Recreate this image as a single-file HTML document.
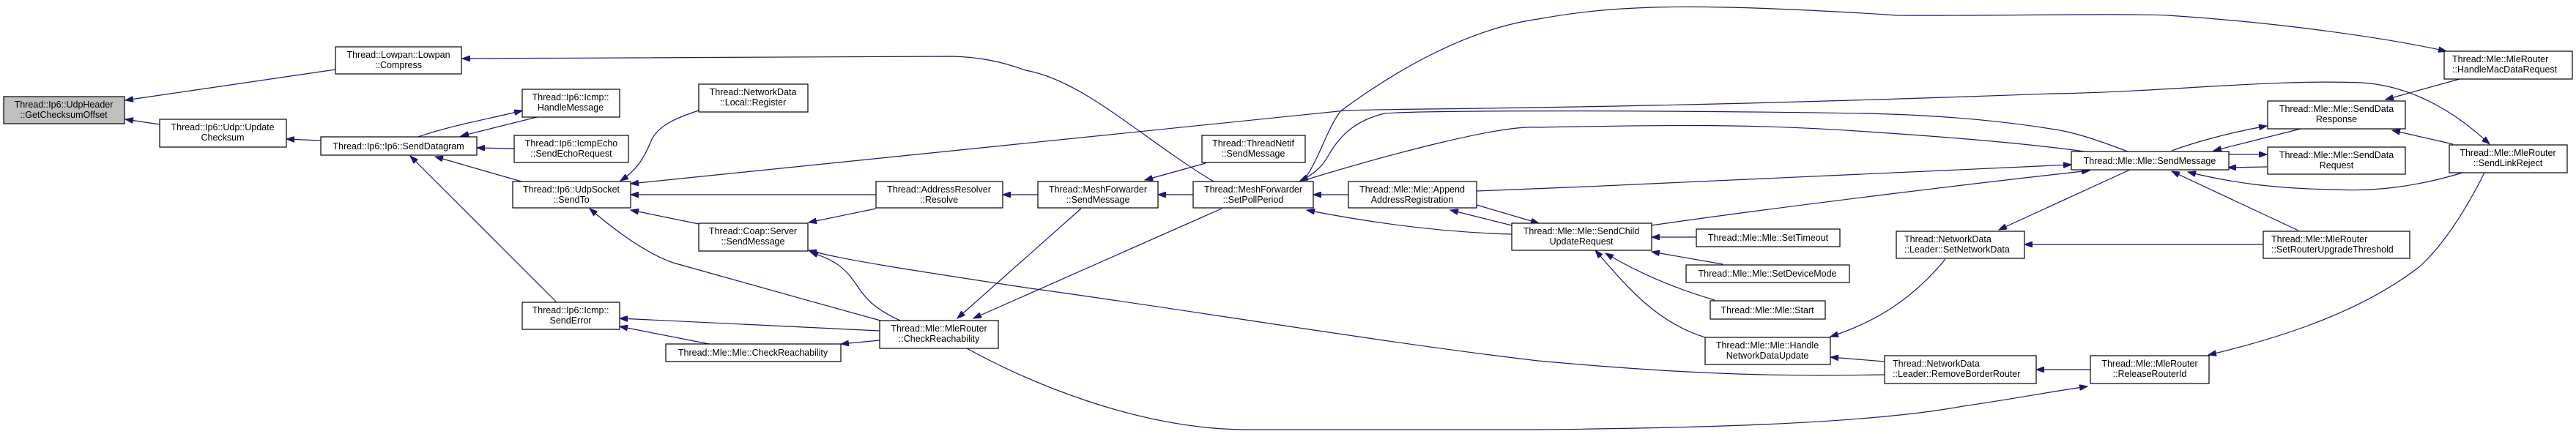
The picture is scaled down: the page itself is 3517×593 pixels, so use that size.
<!DOCTYPE html>
<html><head><meta charset="utf-8"><style>
html,body{margin:0;padding:0;background:#fff;}
svg{display:block;}
text{font-family:"Liberation Sans",Arial,sans-serif;font-size:12.5px;fill:#000;text-anchor:middle;}
.n{fill:#fff;stroke:#000;stroke-width:1.2;}
.e{fill:none;stroke:#191970;stroke-width:1.2;marker-end:url(#a);}
.l{fill:none;stroke:#191970;stroke-width:1.2;}
</style></head><body>
<svg width="3517" height="593" viewBox="0 0 3517 593" xmlns="http://www.w3.org/2000/svg">
<defs><marker id="a" markerUnits="userSpaceOnUse" markerWidth="12" markerHeight="8" refX="11" refY="4" orient="auto"><path d="M0,0 L11,4 L0,8 z" fill="#191970" stroke="#191970"/></marker></defs>

<!-- edges -->
<path class="e" d="M458,95 L171,137"/>
<path class="e" d="M218,170 L171,163"/>
<path class="e" d="M438,192 L391,190"/>
<path class="e" d="M1657,248 C1560,190 1480,110 1400,96 C1370,85 1340,78 1300,77 L631,80"/>
<path class="e" d="M571,187 C620,170 680,160 713,151"/>
<path class="e" d="M733,160 L629,186"/>
<path class="e" d="M702,203 L651,202"/>
<path class="e" d="M712,248 L594,214"/>
<path class="e" d="M759,412 L560,213"/>
<path class="e" d="M954,151 C920,162 900,172 890,190 C880,215 870,232 847,247"/>
<path class="e" d="M1837,151 L861,251"/>
<path class="e" d="M1837,151 C1900,148 2200,150 2800,128 C2950,126 3100,108 3225,113 C3300,118 3360,160 3399,197"/>
<path class="e" d="M2905,207 C2860,190 2830,180 2800,176 C2700,160 2600,156 2546,155 C2300,151 1950,150 1890,155 C1850,165 1830,185 1815,210 C1805,230 1790,240 1775,247"/>
<path class="e" d="M1780,246 C1800,220 1810,180 1830,152 C1900,100 2000,40 2100,26 C2200,8 2300,2 2591,21 C2700,22 2900,18 2960,21 C3100,30 3250,50 3340,70"/>
<path class="l" d="M1785,245 C1900,210 2050,170 2100,174 C2300,170 2412,170 2550,180 C2700,190 2780,198 2846,207"/>
<path class="e" d="M2016,261 C2300,250 2600,236 2828,225"/>
<path class="e" d="M2254,308 C2450,280 2700,250 2853,233"/>
<path class="e" d="M2910,231 L2729,314"/>
<path class="e" d="M3090,334 L2764,334"/>
<path class="e" d="M3138,315 L2965,234"/>
<path class="e" d="M3362,236 C3300,255 3240,262 3189,259 C3100,258 3040,248 2987,235"/>
<path class="e" d="M2965,206 C3000,193 3050,180 3095,172"/>
<path class="e" d="M3141,176 L3022,206"/>
<path class="e" d="M3042,211 L3095,211"/>
<path class="e" d="M3095,228 L3042,229"/>
<path class="e" d="M3358,108 L3257,136"/>
<path class="e" d="M3349,197 L3266,178"/>
<path class="e" d="M3392,236 C3370,280 3340,330 3305,363 C3220,430 3100,465 3015,485"/>
<path class="e" d="M2854,505 L2780,505"/>
<path class="e" d="M1320,476 C1400,520 1550,586 1700,587 L2100,587 C2300,585 2546,580 2680,555 C2750,545 2800,535 2850,528"/>
<path class="e" d="M2573,512 C2450,514 2330,514 2100,493 C1900,470 1600,420 1400,393 C1250,370 1150,355 1104,342"/>
<path class="e" d="M2573,494 L2499,488"/>
<path class="e" d="M2656,354 C2610,410 2560,440 2499,460"/>
<path class="e" d="M2316,324 L2255,324"/>
<path class="e" d="M2352,361 L2255,344"/>
<path class="e" d="M2341,410 C2290,395 2240,375 2192,346"/>
<path class="e" d="M2328,461 C2260,440 2220,390 2178,342"/>
<path class="e" d="M2016,280 L2101,305"/>
<path class="e" d="M2064,308 L1980,287"/>
<path class="e" d="M2064,320 C1990,318 1900,310 1784,287"/>
<path class="e" d="M1841,266 L1793,266"/>
<path class="e" d="M1629,266 L1581,266"/>
<path class="e" d="M1646,223 L1563,246"/>
<path class="e" d="M1417,266 L1369,266"/>
<path class="e" d="M1196,266 L861,266"/>
<path class="e" d="M1196,285 L1104,304"/>
<path class="e" d="M954,306 L861,287"/>
<path class="e" d="M1202,438 C1100,410 960,370 919,359 C880,345 840,315 805,285"/>
<path class="e" d="M1229,438 C1190,420 1180,405 1170,390 C1150,360 1135,355 1106,344"/>
<path class="e" d="M1476,285 L1307,435"/>
<path class="e" d="M1668,285 L1329,435"/>
<path class="e" d="M1201,465 L1148,470"/>
<path class="e" d="M1201,452 L846,435"/>
<path class="e" d="M968,470 L846,446"/>

<!-- nodes -->
<rect x="5" y="132" width="165" height="37" fill="#bfbfbf" stroke="#000" stroke-width="1.2"/>
<text x="87" y="147">Thread::Ip6::UdpHeader</text><text x="87" y="161">::GetChecksumOffset</text>

<rect class="n" x="458" y="64" width="172" height="37"/><text x="544" y="79">Thread::Lowpan::Lowpan</text><text x="544" y="93">::Compress</text>
<rect class="n" x="218" y="163" width="173" height="38"/><text x="304" y="178">Thread::Ip6::Udp::Update</text><text x="304" y="192">Checksum</text>
<rect class="n" x="438" y="187" width="213" height="25"/><text x="544" y="204">Thread::Ip6::Ip6::SendDatagram</text>
<rect class="n" x="713" y="122" width="133" height="38"/><text x="779" y="137">Thread::Ip6::Icmp::</text><text x="779" y="151">HandleMessage</text>
<rect class="n" x="702" y="185" width="156" height="37"/><text x="780" y="200">Thread::Ip6::IcmpEcho</text><text x="780" y="214">::SendEchoRequest</text>
<rect class="n" x="700" y="248" width="161" height="36"/><text x="780" y="263">Thread::Ip6::UdpSocket</text><text x="780" y="277">::SendTo</text>
<rect class="n" x="954" y="115" width="149" height="38"/><text x="1028" y="130">Thread::NetworkData</text><text x="1028" y="144">::Local::Register</text>
<rect class="n" x="1196" y="248" width="173" height="36"/><text x="1282" y="263">Thread::AddressResolver</text><text x="1282" y="277">::Resolve</text>
<rect class="n" x="954" y="305" width="149" height="38"/><text x="1028" y="320">Thread::Coap::Server</text><text x="1028" y="334">::SendMessage</text>
<rect class="n" x="713" y="413" width="133" height="37"/><text x="779" y="428">Thread::Ip6::Icmp::</text><text x="779" y="442">SendError</text>
<rect class="n" x="909" y="470" width="239" height="24"/><text x="1028" y="486">Thread::Mle::Mle::CheckReachability</text>
<rect class="n" x="1201" y="438" width="162" height="38"/><text x="1282" y="453">Thread::Mle::MleRouter</text><text x="1282" y="467">::CheckReachability</text>
<rect class="n" x="1417" y="248" width="164" height="36"/><text x="1499" y="263">Thread::MeshForwarder</text><text x="1499" y="277">::SendMessage</text>
<rect class="n" x="1641" y="185" width="141" height="37"/><text x="1711" y="200">Thread::ThreadNetif</text><text x="1711" y="214">::SendMessage</text>
<rect class="n" x="1629" y="248" width="164" height="36"/><text x="1711" y="263">Thread::MeshForwarder</text><text x="1711" y="277">::SetPollPeriod</text>
<rect class="n" x="1841" y="248" width="175" height="36"/><text x="1928" y="263">Thread::Mle::Mle::Append</text><text x="1928" y="277">AddressRegistration</text>
<rect class="n" x="2064" y="305" width="191" height="37"/><text x="2159" y="320">Thread::Mle::Mle::SendChild</text><text x="2159" y="334">UpdateRequest</text>
<rect class="n" x="2316" y="313" width="196" height="24"/><text x="2414" y="329">Thread::Mle::Mle::SetTimeout</text>
<rect class="n" x="2302" y="362" width="223" height="24"/><text x="2413" y="378">Thread::Mle::Mle::SetDeviceMode</text>
<rect class="n" x="2335" y="411" width="157" height="25"/><text x="2413" y="428">Thread::Mle::Mle::Start</text>
<rect class="n" x="2328" y="461" width="171" height="37"/><text x="2413" y="476">Thread::Mle::Mle::Handle</text><text x="2413" y="490">NetworkDataUpdate</text>
<rect class="n" x="2589" y="316" width="175" height="37"/><text x="2600" y="331" style="text-anchor:start">Thread::NetworkData</text><text x="2600" y="345" style="text-anchor:start">::Leader::SetNetworkData</text>
<rect class="n" x="2573" y="486" width="207" height="38"/><text x="2584" y="501" style="text-anchor:start">Thread::NetworkData</text><text x="2584" y="515" style="text-anchor:start">::Leader::RemoveBorderRouter</text>
<rect class="n" x="2828" y="207" width="215" height="25"/><text x="2935" y="224">Thread::Mle::Mle::SendMessage</text>
<rect class="n" x="3096" y="138" width="188" height="38"/><text x="3190" y="153">Thread::Mle::Mle::SendData</text><text x="3190" y="167">Response</text>
<rect class="n" x="3096" y="201" width="188" height="37"/><text x="3190" y="216">Thread::Mle::Mle::SendData</text><text x="3190" y="230">Request</text>
<rect class="n" x="3337" y="70" width="175" height="38"/><text x="3348" y="85" style="text-anchor:start">Thread::Mle::MleRouter</text><text x="3348" y="99" style="text-anchor:start">::HandleMacDataRequest</text>
<rect class="n" x="3344" y="198" width="161" height="38"/><text x="3424" y="213">Thread::Mle::MleRouter</text><text x="3424" y="227">::SendLinkReject</text>
<rect class="n" x="3090" y="316" width="200" height="37"/><text x="3101" y="331" style="text-anchor:start">Thread::Mle::MleRouter</text><text x="3101" y="345" style="text-anchor:start">::SetRouterUpgradeThreshold</text>
<rect class="n" x="2854" y="486" width="162" height="38"/><text x="2935" y="501">Thread::Mle::MleRouter</text><text x="2935" y="515">::ReleaseRouterId</text>
</svg>
</body></html>
